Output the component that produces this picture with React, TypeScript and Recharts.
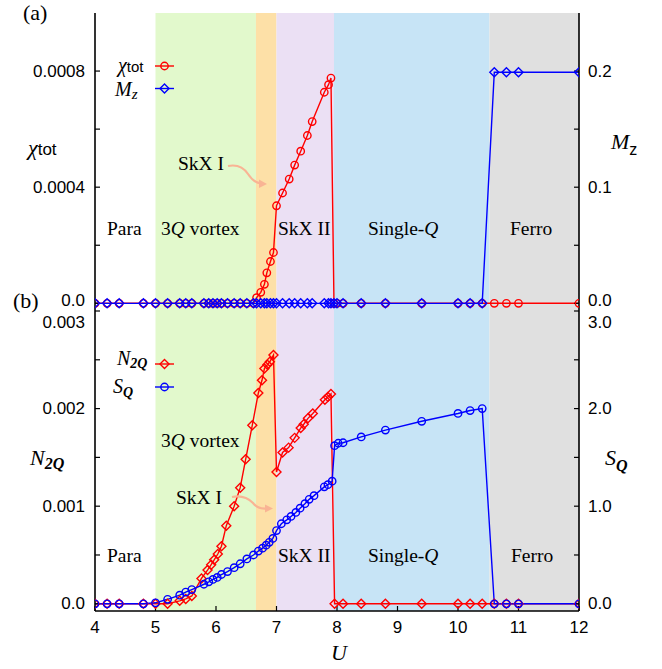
import React from 'react';
import { LineChart, Line, XAxis, YAxis, ReferenceArea } from 'recharts';

// ---- phase regions (U boundaries) ----
const phaseEdges = [4, 5, 6.66, 7.0, 7.95, 10.52, 12];
const phaseFills = ['#ffffff', '#e2f9cc', '#fde0a7', '#ebe0f4', '#c7e4f6', '#e0e0e0'];

// ---- x axis ----
const uTicks = [4, 5, 6, 7, 8, 9, 10, 11, 12];

// ---- panel (a) ----
const uA = [4.0, 4.2, 4.4, 4.8, 5.0, 5.2, 5.4, 5.5, 5.6, 5.8, 5.88, 5.95, 6.02, 6.09, 6.19, 6.3, 6.4, 6.51, 6.62,
  6.67, 6.74, 6.8, 6.84, 6.9, 6.95, 7.0, 7.1, 7.21, 7.3, 7.4, 7.51, 7.59, 7.79, 7.86, 7.9,
  7.95, 8.0, 8.1, 8.4, 8.8, 9.4, 10.0, 10.2, 10.4, 10.6, 10.8, 11.0, 12.0];
const chiTot = [0, 0, 0, 0, 0, 0, 0, 0, 0, 0, 0, 0, 0, 0, 0, 0, 0, 0, 0,
  0.0000193, 0.0000378, 0.0000653, 0.000105, 0.000144, 0.000175,
  0.000336, 0.00038, 0.000428, 0.000476, 0.000524, 0.000578, 0.000626, 0.000727, 0.000753, 0.000776,
  0, 0, 0, 0, 0, 0, 0, 0, 0, 0, 0, 0, 0];
const mZ = [0, 0, 0, 0, 0, 0, 0, 0, 0, 0, 0, 0, 0, 0, 0, 0, 0, 0, 0,
  0, 0, 0, 0, 0, 0, 0, 0, 0, 0, 0, 0, 0, 0, 0, 0,
  0, 0, 0, 0, 0, 0, 0, 0, 0, 0.199, 0.199, 0.199, 0.199];

const chiTicks = [0, 0.0002, 0.0004, 0.0006, 0.0008];
const chiLabels = ['0.0', '', '0.0004', '', '0.0008'];
const mzTicks = [0, 0.05, 0.1, 0.15, 0.2];
const mzLabels = ['0.0', '', '0.1', '', '0.2'];

// ---- panel (b) ----
const uN = [4.0, 4.2, 4.4, 4.8, 5.0, 5.2, 5.4, 5.5, 5.6, 5.76, 5.86, 5.92, 5.97, 6.03, 6.09, 6.17, 6.3, 6.4, 6.49, 6.6,
  6.7, 6.76, 6.8, 6.85, 6.89, 6.95, 7.0, 7.1, 7.2, 7.3, 7.4, 7.45, 7.52, 7.6, 7.8, 7.85, 7.9,
  7.96, 8.1, 8.4, 8.8, 9.4, 10.0, 10.2, 10.4, 10.6, 10.8, 11.0, 12.0];
const n2Q = [0, 0, 0, 0, 0, 0, 0.00003, 0.00005, 0.00008, 0.00026, 0.000345, 0.0004, 0.00045, 0.00051, 0.00059, 0.0008,
  0.001, 0.00119, 0.00148, 0.00183, 0.00216, 0.00229, 0.00241, 0.00245, 0.00248, 0.00255,
  0.00135, 0.00155, 0.0016, 0.0017, 0.0018, 0.00184, 0.0019, 0.00195, 0.00209, 0.00212, 0.00215,
  0, 0, 0, 0, 0, 0, 0, 0, 0, 0, 0, 0];
const uS = [4.0, 4.2, 4.4, 4.8, 5.0, 5.2, 5.4, 5.5, 5.6, 5.8, 5.88, 5.95, 6.02, 6.09, 6.19, 6.3, 6.4, 6.51, 6.62, 6.7,
  6.77, 6.83, 6.88, 6.94, 7.0, 7.08, 7.17, 7.24, 7.32, 7.39, 7.47, 7.54, 7.62, 7.79, 7.85, 7.92,
  7.96, 8.02, 8.1, 8.4, 8.8, 9.4, 10.0, 10.2, 10.4, 10.6, 10.8, 11.0, 12.0];
const sQ = [0, 0, 0, 0, 0.01, 0.046, 0.088, 0.12, 0.146, 0.2, 0.225, 0.25, 0.27, 0.3, 0.33, 0.37, 0.41, 0.46, 0.5, 0.54,
  0.57, 0.6, 0.63, 0.67, 0.75, 0.82, 0.86, 0.895, 0.936, 0.98, 1.026, 1.07, 1.108, 1.198, 1.22, 1.256,
  1.62, 1.645, 1.65, 1.71, 1.78, 1.87, 1.95, 1.98, 2.0, 0, 0, 0, 0];

const nTicks = [0, 0.0005, 0.001, 0.0015, 0.002, 0.0025, 0.003];
const nLabels = ['0.0', '', '0.001', '', '0.002', '', '0.003'];
const sTicks = [0, 0.5, 1, 1.5, 2, 2.5, 3];
const sLabels = ['0.0', '', '1.0', '', '2.0', '', '3.0'];

const RED = '#ff0000';
const BLUE = '#0000ff';
const serif = 'Liberation Serif';
const sans = 'Liberation Sans';

const zip = (xs: number[], ys: number[]) => xs.map((u, i) => ({ u, v: ys[i] }));

const makeYTick = (ticks: number[], labels: string[], shifts: number[]) => (props: any) => {
  const { x, y, payload, textAnchor } = props;
  const i = ticks.findIndex((t) => Math.abs(t - payload.value) < 1e-9);
  const label = i >= 0 ? labels[i] : '';
  if (!label) return <g />;
  return (
    <text x={x} y={y + (shifts[i] || 0)} textAnchor={textAnchor} dominantBaseline="central"
      fontFamily={sans} fontSize={17} fill="#000">{label}</text>
  );
};

const circleDot = (color: string) => (props: any) => {
  const { cx, cy, index } = props;
  if (cx == null || cy == null) return <g key={index} />;
  return <circle key={index} cx={cx} cy={cy} r={3.7} fill="none" stroke={color} strokeWidth={1.4} />;
};
const diamondDot = (color: string) => (props: any) => {
  const { cx, cy, index } = props;
  if (cx == null || cy == null) return <g key={index} />;
  const s = 4.5;
  return (
    <path key={index} d={`M${cx},${cy - s}L${cx + s},${cy}L${cx},${cy + s}L${cx - s},${cy}Z`}
      fill="none" stroke={color} strokeWidth={1.4} />
  );
};

const axisLine = { stroke: '#000', strokeWidth: 1.6 };
const tickLine = { stroke: '#000', strokeWidth: 1.2 };

export default function App() {
  const bands = phaseFills.map((c, i) => (
    <ReferenceArea key={'band' + i} xAxisId="b" yAxisId="l" x1={phaseEdges[i]} x2={phaseEdges[i + 1]}
      fill={c} fillOpacity={1} stroke="none" ifOverflow="visible" />
  ));
  const bandsB = phaseFills.map((c, i) => (
    <ReferenceArea key={'bandb' + i} xAxisId="b" yAxisId="l" x1={phaseEdges[i]} x2={phaseEdges[i + 1]}
      fill={c} fillOpacity={1} stroke="none" ifOverflow="visible" />
  ));
  return (
    <div style={{ position: 'absolute', left: 0, top: 0, width: 662, height: 669, background: '#fff' }}>
      {/* Panel (a) */}
      <div style={{ position: 'absolute', left: 0, top: 0 }}>
        <LineChart width={662} height={320} margin={{ top: 13, right: 23, bottom: 9, left: 35 }}>
          <XAxis xAxisId="b" dataKey="u" type="number" domain={[4, 12]} ticks={uTicks} allowDataOverflow
            orientation="bottom" height={0} axisLine={axisLine} tickLine={tickLine} tickSize={-5}
            tick={false} />
          <XAxis xAxisId="t" dataKey="u" type="number" domain={[4, 12]} ticks={uTicks} allowDataOverflow
            orientation="top" height={0} axisLine={axisLine} tickLine={tickLine} tickSize={-5}
            tick={false} />
          <YAxis yAxisId="l" orientation="left" width={60} type="number" domain={[-0.0000265, 0.001]}
            allowDataOverflow ticks={chiTicks} interval={0} axisLine={axisLine} tickLine={tickLine}
            tickSize={-5} tickMargin={15} tick={makeYTick(chiTicks, chiLabels, [-3, 0, 0, 0, 0])} />
          <YAxis yAxisId="r" orientation="right" width={60} type="number" domain={[-0.0066, 0.25]}
            allowDataOverflow ticks={mzTicks} interval={0} axisLine={axisLine} tickLine={tickLine}
            tickSize={-5} tickMargin={14} tick={makeYTick(mzTicks, mzLabels, [-3, 0, 0, 0, 0])} />
          {bands}
          <Line data={zip(uA, chiTot)} dataKey="v" xAxisId="b" yAxisId="l" type="linear" stroke={RED}
            strokeWidth={1.4} dot={circleDot(RED)} activeDot={false} isAnimationActive={false} />
          <Line data={zip(uA, mZ)} dataKey="v" xAxisId="b" yAxisId="r" type="linear" stroke={BLUE}
            strokeWidth={1.4} dot={diamondDot(BLUE)} activeDot={false} isAnimationActive={false} />
        </LineChart>
      </div>
      {/* Panel (b) */}
      <div style={{ position: 'absolute', left: 0, top: 300 }}>
        <LineChart width={662} height={369} margin={{ top: 11, right: 23, bottom: 28, left: 35 }}>
          <XAxis xAxisId="b" dataKey="u" type="number" domain={[4, 12]} ticks={uTicks} allowDataOverflow
            orientation="bottom" height={30} axisLine={axisLine} tickLine={tickLine} tickSize={-5}
            tickMargin={15} interval={0}
            tick={{ fontSize: 17, fill: '#000', fontFamily: sans }} />
          <XAxis xAxisId="t" dataKey="u" type="number" domain={[4, 12]} ticks={uTicks} allowDataOverflow
            orientation="top" height={0} axisLine={axisLine} tickLine={false} tick={false} />
          <YAxis yAxisId="l" orientation="left" width={60} type="number" domain={[-0.000074, 0.003]}
            allowDataOverflow ticks={nTicks} interval={0} axisLine={axisLine} tickLine={tickLine}
            tickSize={-5} tickMargin={15} tick={makeYTick(nTicks, nLabels, [0, 0, 0, 0, 0, 0, 11])} />
          <YAxis yAxisId="r" orientation="right" width={60} type="number" domain={[-0.074, 3]}
            allowDataOverflow ticks={sTicks} interval={0} axisLine={axisLine} tickLine={tickLine}
            tickSize={-5} tickMargin={14} tick={makeYTick(sTicks, sLabels, [0, 0, 0, 0, 0, 0, 11])} />
          {bandsB}
          <Line data={zip(uN, n2Q)} dataKey="v" xAxisId="b" yAxisId="l" type="linear" stroke={RED}
            strokeWidth={1.4} dot={diamondDot(RED)} activeDot={false} isAnimationActive={false} />
          <Line data={zip(uS, sQ)} dataKey="v" xAxisId="b" yAxisId="r" type="linear" stroke={BLUE}
            strokeWidth={1.4} dot={circleDot(BLUE)} activeDot={false} isAnimationActive={false} />
        </LineChart>
      </div>
      {/* Annotations */}
      <svg width={662} height={669} style={{ position: 'absolute', left: 0, top: 0, pointerEvents: 'none' }}>
        <text x={23} y={20} fontFamily={serif} fontSize={22} fill="#000">(a)</text>
        <text x={13} y={308} fontFamily={serif} fontSize={22} fill="#000">(b)</text>

        {/* axis titles */}
        <text x={28} y={155} fontFamily={serif} fontSize={22} fill="#000">
          <tspan fontStyle="italic">χ</tspan><tspan fontFamily={sans} fontSize={17}>tot</tspan>
        </text>
        <text x={611} y={149} fontFamily={serif} fontSize={22} fill="#000">
          <tspan fontStyle="italic">M</tspan><tspan fontFamily={sans} fontSize={16} dy={6}>z</tspan>
        </text>
        <text x={30} y={465} fontFamily={serif} fontSize={22} fill="#000">
          <tspan fontStyle="italic">N</tspan><tspan fontSize={16} fontStyle="italic" fontWeight="bold" dy={4}>2Q</tspan>
        </text>
        <text x={605} y={465} fontFamily={serif} fontSize={22} fill="#000">
          <tspan fontStyle="italic">S</tspan><tspan fontSize={16} fontStyle="italic" fontWeight="bold" dy={6}>Q</tspan>
        </text>
        <text x={331} y={660} fontFamily={serif} fontSize={22} fontStyle="italic" fill="#000">U</text>

        {/* legends (a) */}
        <text x={118} y={72} fontFamily={serif} fontSize={20} fill="#000">
          <tspan fontStyle="italic">χ</tspan><tspan fontFamily={sans} fontSize={15}>tot</tspan>
        </text>
        <line x1={155} y1={66} x2={174} y2={66} stroke={RED} strokeWidth={1.4} />
        <circle cx={164.5} cy={66} r={3.7} fill="none" stroke={RED} strokeWidth={1.4} />
        <text x={115} y={96} fontFamily={serif} fontSize={20} fontStyle="italic" fill="#000">
          M<tspan fontSize={15} dy={3}>z</tspan>
        </text>
        <line x1={155} y1={88.5} x2={174} y2={88.5} stroke={BLUE} strokeWidth={1.4} />
        <path d="M164.5,84L169,88.5L164.5,93L160,88.5Z" fill="none" stroke={BLUE} strokeWidth={1.4} />

        {/* legends (b) */}
        <text x={117} y={365} fontFamily={serif} fontSize={20} fill="#000">
          <tspan fontStyle="italic">N</tspan><tspan fontSize={14} fontStyle="italic" fontWeight="bold" dy={3}>2Q</tspan>
        </text>
        <line x1={155} y1={364} x2={174} y2={364} stroke={RED} strokeWidth={1.4} />
        <path d="M164.5,359.5L169,364L164.5,368.5L160,364Z" fill="none" stroke={RED} strokeWidth={1.4} />
        <text x={113} y={393} fontFamily={serif} fontSize={20} fill="#000">
          <tspan fontStyle="italic">S</tspan><tspan fontSize={14} fontStyle="italic" fontWeight="bold" dy={4}>Q</tspan>
        </text>
        <line x1={155} y1={387} x2={174} y2={387} stroke={BLUE} strokeWidth={1.4} />
        <circle cx={164.5} cy={387} r={3.7} fill="none" stroke={BLUE} strokeWidth={1.4} />

        {/* region labels (a) */}
        <g fontFamily={serif} fontSize={19.5} fill="#000">
          <text x={107} y={235}>Para</text>
          <text x={161} y={235}>3<tspan fontStyle="italic">Q</tspan> vortex</text>
          <text x={278} y={235}>SkX II</text>
          <text x={368} y={235}>Single-<tspan fontStyle="italic">Q</tspan></text>
          <text x={510} y={235}>Ferro</text>
          <text x={178} y={170}>SkX I</text>
          {/* region labels (b) */}
          <text x={107} y={562}>Para</text>
          <text x={161} y={447}>3<tspan fontStyle="italic">Q</tspan> vortex</text>
          <text x={176} y={504}>SkX I</text>
          <text x={278} y={562}>SkX II</text>
          <text x={368} y={562}>Single-<tspan fontStyle="italic">Q</tspan></text>
          <text x={511} y={562}>Ferro</text>
        </g>

        {/* SkX I arrows */}
        <path d="M228,166 C238,164 244,168 248,174 C252,180 256,183 261,183.5" fill="none" stroke="#f9b494" strokeWidth={2.2} />
        <path d="M259,179.5 L267,184 L259,188 Z" fill="#f9b494" />
        <path d="M232,497 C242,495 249,499 253,503 C257,508 262,509 267,508.5" fill="none" stroke="#f9b494" strokeWidth={2.2} />
        <path d="M265,504.5 L273,508.5 L265,512.5 Z" fill="#f9b494" />
      </svg>
    </div>
  );
}
